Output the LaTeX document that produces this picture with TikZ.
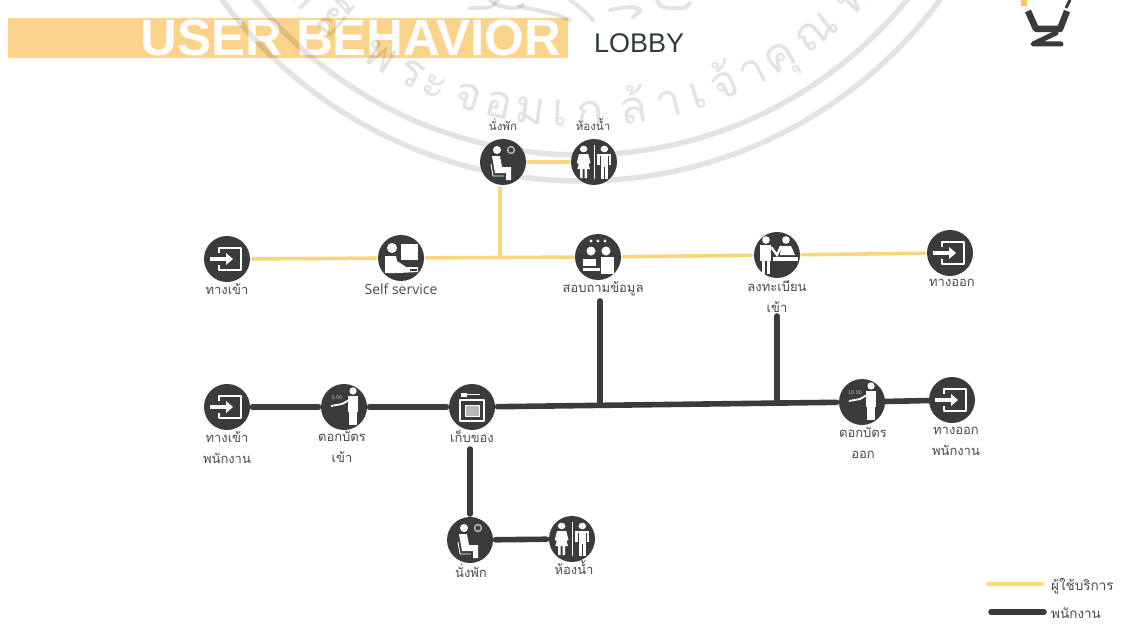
\documentclass[tikz,border=0pt]{standalone}
\usepackage{fontspec}
\setmainfont{Liberation Sans}
\newfontfamily\thaifont[Script=Thai]{Loma}
\newfontfamily\latinlab{Open Sans}
\definecolor{ink}{HTML}{3A3B3D}
\definecolor{amber}{HTML}{FBD679}
\definecolor{banner}{HTML}{FCD38A}
\definecolor{lbl}{HTML}{4A4A4A}
\definecolor{lobbyc}{HTML}{2F3B3B}
\tikzset{
 x=1pt,y=-1pt,
 hub/.style={circle,fill=ink,minimum size=46pt,inner sep=0pt,outer sep=0pt},
 lab/.style={font=\thaifont\fontsize{13}{21}\selectfont,text=lbl,align=center,anchor=north,inner sep=0pt},
 labsm/.style={lab,font=\thaifont\fontsize{11.5}{21}\selectfont},
 guest/.style={draw=amber,line width=3.6pt,line cap=round,shorten <=2pt,shorten >=2pt},
 staff/.style={draw=ink,line width=5.6pt,line cap=round,shorten <=2.5pt,shorten >=2.5pt},
 wmstroke/.style={draw=black,opacity=.11,line width=5.5pt,line cap=round},
 wmtext/.style={font=\thaifont\fontsize{46}{46}\selectfont,text=black,text opacity=.11,anchor=base,inner sep=0pt},
 gl/.style={draw=white,line width=1.6pt,line join=round},
 gf/.style={fill=white}
}
\newcommand{\gexit}{%
 \draw[gl] (-8,-6) -- (-8,-11) -- (14,-11) -- (14,11) -- (-8,11) -- (-8,6);
 \draw[white,line width=3.4pt] (-17,0) -- (0,0);
 \fill[white] (-1,-6) -- (6,0) -- (-1,6) -- cycle;
}
\newcommand{\gseat}{%
 \fill[white] (-6,-12) circle (4);
 \fill[white] (-11,-6) -- (-3,-6) -- (-1,5) -- (8,5) -- (8,18) -- (3,18) -- (3,11) -- (-8,11) -- cycle;
 \draw[white,line width=.9pt] (-12,2) -- (-10,14) -- (1,14);
 \draw[gray!60,line width=1.5pt,fill=ink] (8,-12) circle (3.4);
}
\newcommand{\gwc}{%
 \begin{scope}[xscale=1.15]
 \fill[white] (-9,-13) circle (3.3);
 \fill[white] (-13,-8) -- (-5,-8) -- (-3,1) -- (-5,2) -- (-6,-3) -- (-3.5,7) -- (-6,7) -- (-6,16) -- (-8.2,16) -- (-8.2,7) -- (-9.8,7) -- (-9.8,16) -- (-12,16) -- (-12,7) -- (-14.5,7) -- (-12,-3) -- (-13,2) -- (-15,1) -- cycle;
 \draw[white,line width=1pt] (0,-17) -- (0,17);
 \fill[white] (9,-13) circle (3.3);
 \fill[white] (4,-8) rectangle (14,-6);
 \fill[white] (3,-8) rectangle (5.2,3);
 \fill[white] (12.8,-8) rectangle (15,3);
 \fill[white] (6,-8) rectangle (12,5);
 \fill[white] (6,5) rectangle (8.6,17);
 \fill[white] (9.4,5) rectangle (12,17);
 \end{scope}
}
\newcommand{\gself}{%
 \fill[white] (-9,-10) circle (5);
 \fill[white] (-16,15) -- (-16,-2) -- (-5,-2) -- (-4,3) -- (5,9) -- (17,9) -- (17,14) -- (-3,15) -- cycle;
 \fill[white] (0,-14) rectangle (17,2);
 \fill[ink] (9,10.5) rectangle (16,13);
}
\newcommand{\ginfo}{%
 \fill[white] (-7,-16) circle (1.6) (0,-16) circle (1.6) (7,-16) circle (1.6);
 \fill[white] (-7,-6) circle (4.5) (8,-6) circle (4.5);
 \fill[white] (-15,2) rectangle (-2,9);
 \fill[white] (3,0) rectangle (16,17);
 \fill[white] (-15,10.5) rectangle (2,14);
 \fill[ink] (0,1) rectangle (3,8);
}
\newcommand{\greg}{%
 \fill[white] (-11,-15) circle (3.8) (9,-15) circle (3.8);
 \fill[white] (-17,-10) rectangle (-6,6);
 \fill[white] (-15,6) rectangle (-12,19);
 \fill[white] (-10.5,6) rectangle (-7.5,19);
 \draw[white,line width=2.2pt] (-6,-8) -- (0,0) -- (4,-9);
 \fill[white] (4,-9) -- (14,-9) -- (18,0) -- (3,0) -- cycle;
 \fill[white] (-4,2) rectangle (21,6);
}
\newcommand{\gpunch}[1]{%
 \fill[white] (9,-16) circle (3.6);
 \fill[white] (4,-11) rectangle (14,5);
 \fill[white] (5,5) rectangle (8.6,18);
 \fill[white] (9.4,5) rectangle (13,18);
 \draw[white,line width=1.8pt] (5,-7) -- (-2,-3) -- (-13,-1);
 \node[font=\fontsize{5.5}{6}\selectfont,text=gray!60,inner sep=0pt] at (-7,-9) {#1};
}
\newcommand{\gstore}{%
 \fill[white] (-11,-14.5) rectangle (-5,-10.5);
 \draw[white,line width=1.6pt] (-6,-12.5) -- (8,-12.5);
 \draw[gl] (-12,-7) rectangle (12,14);
 \draw[white,line width=1pt,fill=gray!55] (-7,-2) rectangle (7,9);
}
\begin{document}
\begin{tikzpicture}
\useasboundingbox (0,0) rectangle (1136,626);
\fill[white] (0,0) rectangle (1136,626);
\fill[banner] (8,18) rectangle (568,58);
\node[font=\bfseries\fontsize{51}{51}\selectfont,text=white,anchor=base west,inner sep=0pt] (title) at (140,56) {USER BEHAVIOR};
% watermark
\begin{scope}
\clip (0,0) rectangle (1136,626);
\draw[wmstroke] (581,-265) circle (420);
\draw[wmstroke] (581,-265) circle (446);
\foreach \a/\t in {-47/ล,-41/ยี,-32/พ,-26.6/ร,-22.6/ะ,-17.3/จ,-12.6/อ,-7.7/ม,-3.1/เ,1.4/ก,8/ล้,13.4/า,18/เ,22.4/จ้,27/า,31.6/คุ,38.4/ณ,46/ท}{
  \node[wmtext,rotate=\a] (w\a) at ({581+392*sin(\a)},{-265+392*cos(\a)}) {\t};
}
\draw[wmstroke,line width=4pt] plot[smooth] coordinates {(470,8) (490,7) (498,0)};
\draw[wmstroke,line width=4pt] plot[smooth] coordinates {(490,0) (497,5) (513,8) (523,5)};
\draw[wmstroke,line width=4pt] plot[smooth] coordinates {(520,7) (537,10) (557,15) (570,20)};
\draw[wmstroke,line width=4pt] plot[smooth] coordinates {(570,0) (583,10) (593,20)};
\draw[wmstroke,line width=4pt] plot[smooth] coordinates {(610,10) (630,7) (640,10) (633,17)};
\draw[wmstroke,line width=4pt] plot[smooth] coordinates {(657,0) (663,7) (683,8) (690,3)};
\end{scope}
\node[font=\fontsize{27}{27}\selectfont,text=lobbyc,anchor=base west,inner sep=0pt] (lobby) at (594,53) {LOBBY};
\node[hub] (rest) at (503,162) {};
\node[hub] (wc) at (594,162) {};
\node[hub] (in) at (227,259) {};
\node[hub] (self) at (401,258) {};
\node[hub] (info) at (598,257) {};
\node[hub] (reg) at (777,255) {};
\node[hub] (out) at (950,253) {};
\node[hub] (sin) at (227,407) {};
\node[hub] (cin) at (344,407) {};
\node[hub] (store) at (472,407) {};
\node[hub] (cout) at (862,402) {};
\node[hub] (sout) at (952,400) {};
\node[hub] (rest2) at (470,540) {};
\node[hub] (wc2) at (572,539) {};
\coordinate (j0) at (500,188);
\coordinate (j1) at (500,257);
\coordinate (j2) at (600,404);
\coordinate (j3) at (777,403);
\coordinate (infoend) at (600,301);
\coordinate (regend) at (777,316);
\coordinate (stub) at (470,449);
\coordinate (stubend) at (470,514);
\draw[guest] (rest) -- (wc);
\draw[guest,shorten <=0pt,shorten >=0pt] (j0) -- (j1);
\draw[guest] (in) -- (self);
\draw[guest] (self) -- (info);
\draw[guest] (info) -- (reg);
\draw[guest] (reg) -- (out);
\draw[staff] (sin) -- (cin);
\draw[staff] (cin) -- (store);
\draw[staff] (store) -- (cout);
\draw[staff,shorten <=0pt,shorten >=0pt] (cout) -- (sout);
\draw[staff,shorten <=0pt,shorten >=0pt] (infoend) -- (j2);
\draw[staff,shorten <=0pt,shorten >=0pt] (regend) -- (j3);
\draw[staff,shorten <=0pt,shorten >=0pt] (stub) -- (stubend);
\draw[staff] (rest2) -- (wc2);
\begin{scope}[shift={(rest.center)}]\gseat\end{scope}
\begin{scope}[shift={(wc.center)}]\gwc\end{scope}
\begin{scope}[shift={(in.center)}]\gexit\end{scope}
\begin{scope}[shift={(self.center)}]\gself\end{scope}
\begin{scope}[shift={(info.center)}]\ginfo\end{scope}
\begin{scope}[shift={(reg.center)}]\greg\end{scope}
\begin{scope}[shift={(out.center)}]\gexit\end{scope}
\begin{scope}[shift={(sin.center)}]\gexit\end{scope}
\begin{scope}[shift={(cin.center)}]\gpunch{9.00}\end{scope}
\begin{scope}[shift={(store.center)}]\gstore\end{scope}
\begin{scope}[shift={(cout.center)}]\gpunch{18.00}\end{scope}
\begin{scope}[shift={(sout.center)}]\gexit\end{scope}
\begin{scope}[shift={(rest2.center)}]\gseat\end{scope}
\begin{scope}[shift={(wc2.center)}]\gwc\end{scope}
\node[labsm] (lrest) at (503,118) {นั่งพัก};
\node[labsm] (lwc) at (593,118) {ห้องน้ำ};
\node[lab] (lin) at (227,283) {ทางเข้า};
\node[lab,font=\latinlab\fontsize{14}{16}\selectfont] (lself) at (401,284) {Self service};
\node[lab] (linfo) at (603,281) {สอบถามข้อมูล};
\node[lab] (lreg) at (777,280) {ลงทะเบียน\\เข้า};
\node[lab] (lout) at (952,279) {ทางออก};
\node[lab] (lsin) at (227,431) {ทางเข้า\\พนักงาน};
\node[lab] (lcin) at (342,431) {ตอกบัตร\\เข้า};
\node[lab] (lstore) at (472,430) {เก็บของ};
\node[lab] (lcout) at (863,427) {ตอกบัตร\\ออก};
\node[lab] (lsout) at (956,427) {ทางออก\\พนักงาน};
\node[lab] (lrest2) at (471,564) {นั่งพัก};
\node[lab] (lwc2) at (574,561) {ห้องน้ำ};
\coordinate (k1) at (988,584);
\coordinate (k2) at (1042,584);
\coordinate (k3) at (991,612);
\coordinate (k4) at (1044,612);
\draw[guest,shorten <=0pt,shorten >=0pt] (k1) -- (k2);
\draw[staff,shorten <=0pt,shorten >=0pt] (k3) -- (k4);
\node[lab,anchor=west,font=\thaifont\fontsize{13.5}{16}\selectfont] (lk1) at (1051,586) {ผู้ใช้บริการ};
\node[lab,anchor=west,font=\thaifont\fontsize{13.5}{16}\selectfont] (lk2) at (1051,613) {พนักงาน};
\draw[ink,line width=6.5pt,line join=round] (1028,11) -- (1036,29) -- (1060,29) -- (1067,11);
\draw[ink,line width=5pt,line join=round,line cap=round] (1056,33) -- (1033,44) -- (1061,44);
\draw[ink,line width=3pt] (1070,0) -- (1066,8);
\fill[amber!80!orange] (1021,0) rectangle (1027,6);
\end{tikzpicture}
\end{document}
